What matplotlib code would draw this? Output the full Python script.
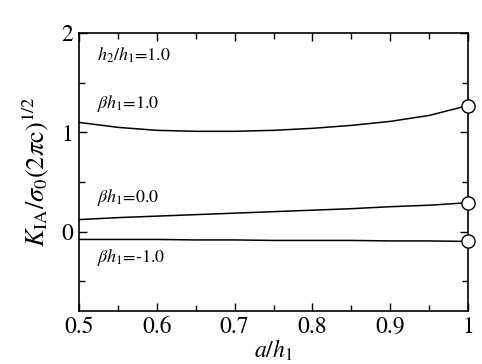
import matplotlib
matplotlib.use("Agg")
import matplotlib.pyplot as plt
import numpy as np

plt.rcParams["font.family"] = ["STIXGeneral", "Liberation Serif", "DejaVu Serif"]
plt.rcParams["mathtext.fontset"] = "stix"

# values
a_h1 = [0.5, 0.55, 0.6, 0.65, 0.7, 0.75, 0.8, 0.85, 0.9, 0.95, 1.0]
k_beta_p1 = [1.10, 1.05, 1.02, 1.01, 1.01, 1.02, 1.04, 1.07, 1.11, 1.17, 1.27]
k_beta_0 = [0.12, 0.14, 0.155, 0.17, 0.185, 0.20, 0.215, 0.23, 0.25, 0.265, 0.29]
k_beta_m1 = [-0.08, -0.08, -0.08, -0.085, -0.085, -0.09, -0.09, -0.09, -0.095, -0.095, -0.10]

# circles mark the a/h1 = 1 limit
end_x = [1.0, 1.0, 1.0]
end_k = [1.27, 0.29, -0.10]

labels = [r"$\beta h_1$=1.0", r"$\beta h_1$=0.0", r"$\beta h_1$=-1.0"]
label_y = [1.29, 0.34, -0.26]

fig = plt.figure(figsize=(4.82, 3.64), dpi=100)
ax = fig.add_axes([0.164, 0.146, 0.807, 0.763])

for k in (k_beta_p1, k_beta_0, k_beta_m1):
    ax.plot(a_h1, k, color="black", lw=1.1)
ax.plot(end_x, end_k, "o", ms=9.5, mfc="white", mec="black", mew=1.0,
        clip_on=False, zorder=5)

ax.text(0.523, 1.78, r"$h_2/h_1$=1.0", fontsize=13, va="center")
for txt, y in zip(labels, label_y):
    ax.text(0.523, y, txt, fontsize=13, va="center")

ax.set_xlim(0.5, 1.0)
ax.set_ylim(-0.8, 2.0)
ax.set_xticks([0.5, 0.6, 0.7, 0.8, 0.9, 1.0])
ax.set_xticklabels(["0.5", "0.6", "0.7", "0.8", "0.9", "1"])
ax.set_xticks(np.arange(0.55, 1.0, 0.1), minor=True)
ax.set_yticks([0, 1, 2])
ax.set_yticks([-0.5, 0.5, 1.5], minor=True)
ax.tick_params(which="both", direction="in", top=True, right=True,
               labelsize=17, width=1.0)
ax.tick_params(which="major", length=6, pad=4)
ax.tick_params(which="minor", length=4)
for s in ax.spines.values():
    s.set_linewidth(1.2)

ax.set_xlabel(r"$a/h_1$", fontsize=17, labelpad=0)
ax.set_ylabel(r"$K_{\rm IA}/\sigma_0(2\pi {\rm c})^{1/2}$", fontsize=19, labelpad=8)

fig.savefig("out.png", dpi=100)
